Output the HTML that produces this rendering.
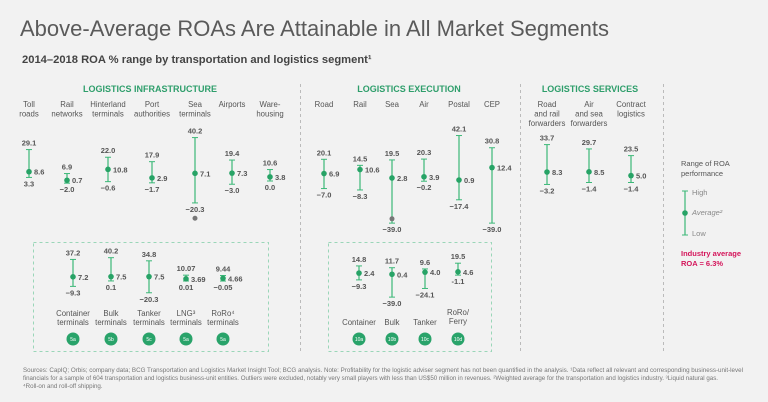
<!DOCTYPE html>
<html><head><meta charset="utf-8"><style>
body{margin:0;background:#f2f2f2;}
svg{display:block;font-family:"Liberation Sans",sans-serif;}
</style></head><body>
<svg id="c" width="768" height="402" viewBox="0 0 768 402">
<rect width="768" height="402" fill="#f2f2f2"/>
<text x="20" y="36" font-size="22" fill="#5a5a5a" font-weight="300">Above-Average ROAs Are Attainable in All Market Segments</text>
<text x="22" y="63" font-size="11.2" font-weight="bold" fill="#444">2014–2018 ROA % range by transportation and logistics segment¹</text>
<g stroke="#bbb" stroke-dasharray="3,3" fill="none">
<line x1="300.5" y1="84" x2="300.5" y2="352"/><line x1="520.5" y1="84" x2="520.5" y2="352"/><line x1="663.5" y1="84" x2="663.5" y2="352"/>
</g>
<g stroke="#9ad6b8" stroke-dasharray="3,3" fill="none">
<rect x="33.5" y="242.5" width="235" height="109"/><rect x="328.5" y="242.5" width="163" height="109"/>
</g>
<g font-size="9" font-weight="bold" fill="#2e9e6b" text-anchor="middle">
<text x="150" y="92">LOGISTICS INFRASTRUCTURE</text>
<text x="409" y="92">LOGISTICS EXECUTION</text>
<text x="590" y="92">LOGISTICS SERVICES</text>
</g>
<g font-size="7.5" fill="#555">
<text x="681" y="166">Range of ROA</text><text x="681" y="176">performance</text>
<line x1="685" y1="191" x2="685" y2="235" stroke="#3cb878" stroke-width="1.2"/>
<line x1="682" y1="191" x2="688" y2="191" stroke="#3cb878"/><line x1="682" y1="235" x2="688" y2="235" stroke="#3cb878"/>
<circle cx="685" cy="213" r="2.8" fill="#27a366"/>
<text x="692" y="195" fill="#888">High</text><text x="692" y="215" fill="#888" font-style="italic">Average²</text><text x="692" y="236" fill="#888">Low</text>
<text x="681" y="256" font-weight="bold" fill="#d4145a">Industry average</text>
<text x="681" y="266" font-weight="bold" fill="#d4145a">ROA = 6.3%</text>
</g>
<g font-size="6.2" fill="#777">
<text x="23" y="372" textLength="720" lengthAdjust="spacingAndGlyphs">Sources: CapIQ; Orbis; company data; BCG Transportation and Logistics Market Insight Tool; BCG analysis. Note: Profitability for the logistic adviser segment has not been quantified in the analysis. ¹Data reflect all relevant and corresponding business-unit-level</text>
<text x="23" y="380" textLength="695" lengthAdjust="spacingAndGlyphs">financials for a sample of 604 transportation and logistics business-unit entities. Outliers were excluded, notably very small players with less than US$50 million in revenues. ²Weighted average for the transportation and logistics industry. ³Liquid natural gas.</text>
<text x="23" y="388">⁴Roll-on and roll-off shipping.</text>
</g>
<g id="marks"></g>
</svg>
<script>
// top row
const topNames=[["Toll","roads"],["Rail","networks"],["Hinterland","terminals"],["Port","authorities"],["Sea","terminals"],["Airports"],["Ware-","housing"],["Road"],["Rail"],["Sea"],["Air"],["Postal"],["CEP"],["Road","and rail","forwarders"],["Air","and sea","forwarders"],["Contract","logistics"]];
const topHigh=[29.1,6.9,22.0,17.9,40.2,19.4,10.6,20.1,14.5,19.5,20.3,42.1,30.8,33.7,29.7,23.5];
const topAvg=[8.6,0.7,10.8,2.9,7.1,7.3,3.8,6.9,10.6,2.8,3.9,0.9,12.4,8.3,8.5,5.0];
const topLow=[3.3,-2.0,-0.6,-1.7,-20.3,-3.0,0.0,-7.0,-8.3,-39.0,-0.2,-17.4,-39.0,-3.2,-1.4,-1.4];
const topHighLbl=["29.1","6.9","22.0","17.9","40.2","19.4","10.6","20.1","14.5","19.5","20.3","42.1","30.8","33.7","29.7","23.5"];
const topAvgLbl=["8.6","0.7","10.8","2.9","7.1","7.3","3.8","6.9","10.6","2.8","3.9","0.9","12.4","8.3","8.5","5.0"];
const topLowLbl=["3.3","−2.0","−0.6","−1.7","−20.3","−3.0","0.0","−7.0","−8.3","−39.0","−0.2","−17.4","−39.0","−3.2","−1.4","−1.4"];
const topOutlier=[null,null,null,null,-34.5,null,null,null,null,-35,null,null,null,null,null,null];
// bottom row
const botNames=[["Container","terminals"],["Bulk","terminals"],["Tanker","terminals"],["LNG³","terminals"],["RoRo⁴","terminals"],["Container"],["Bulk"],["Tanker"],["RoRo/","Ferry"]];
const botHigh=[37.2,40.2,34.8,10.07,9.44,14.8,11.7,9.6,19.5];
const botAvg=[7.2,7.5,7.5,3.69,4.66,2.4,0.4,4.0,4.6];
const botLow=[-9.3,0.1,-20.3,0.01,-0.05,-9.3,-39.0,-24.1,-1.1];
const botHighLbl=["37.2","40.2","34.8","10.07","9.44","14.8","11.7","9.6","19.5"];
const botAvgLbl=["7.2","7.5","7.5","3.69","4.66","2.4","0.4","4.0","4.6"];
const botLowLbl=["−9.3","0.1","−20.3","0.01","−0.05","−9.3","−39.0","−24.1","-1.1"];
const badges=["5a","5b","5c","5a","5a","10a","10b","10c","10d"];

const topX=[29,67,108,152,195,232,270,324,360,392,424,459,492,547,589,631];
const botX=[73,111,149,186,223,359,392,425,458];
const yTop=v=>181-v*1.08;
const yBot=(v,i)=>(i<5?281:274.5)-v*0.58;
const NS="http://www.w3.org/2000/svg";
const g=document.getElementById('marks');
function mk(t,a,txt){const e=document.createElementNS(NS,t);for(const k in a)e.setAttribute(k,a[k]);if(txt!==undefined)e.textContent=txt;g.appendChild(e);return e;}
function bar(x,yh,ya,yl,hl,al,ll,name,out){
  let e=mk('line',{x1:x,y1:yh,x2:x,y2:yl,stroke:'#3cb878','stroke-width':1.2});
  
  
  mk('line',{x1:x-3,y1:yh,x2:x+3,y2:yh,stroke:'#3cb878'});
  mk('line',{x1:x-3,y1:yl,x2:x+3,y2:yl,stroke:'#3cb878'});
  e=mk('circle',{cx:x,cy:ya,r:2.8,fill:'#27a366'});
  
  
  if(out!==null&&out!==undefined){e=mk('circle',{cx:x,cy:out,r:2.5,fill:'#777'});
    
    }
  const st={'font-size':7.5,'font-weight':'bold',fill:'#555'};
  mk('text',Object.assign({x:x,y:yh-4,'text-anchor':'middle'},st),hl);
  mk('text',Object.assign({x:x+5,y:ya+3},st),al);
  mk('text',Object.assign({x:x,y:yl+9,'text-anchor':'middle'},st),ll);
}
topNames.forEach((n,i)=>{
  const x=topX[i];
  n.forEach((s,j)=>{const t=mk('text',{x:x,y:107+j*9.5,'text-anchor':'middle','font-size':7.8,fill:'#555'},s);
    
    });
  bar(x,yTop(topHigh[i]),yTop(topAvg[i]),yTop(topLow[i]),topHighLbl[i],topAvgLbl[i],topLowLbl[i],'top-seg-'+i,topOutlier[i]===null?null:yTop(topOutlier[i]));
});
botNames.forEach((n,i)=>{
  const x=botX[i];
  const y0=n.length===2?316:325;
  n.forEach((s,j)=>{const t=mk('text',{x:x,y:(i>=5&&n.length===1?325:y0+j*9)+(i>=5&&n.length===2?-1:0),'text-anchor':'middle','font-size':7.8,fill:'#555'},s);
    
    });
  bar(x,yBot(botHigh[i],i),yBot(botAvg[i],i),yBot(botLow[i],i),botHighLbl[i],botAvgLbl[i],botLowLbl[i],'bot-seg-'+i,null);
  const c=mk('circle',{cx:x,cy:339,r:6.5,fill:'#29a36a'});
  
  
  mk('text',{x:x,y:341,'text-anchor':'middle','font-size':5,fill:'#fff'},badges[i]);
});
</script>
</body></html>
